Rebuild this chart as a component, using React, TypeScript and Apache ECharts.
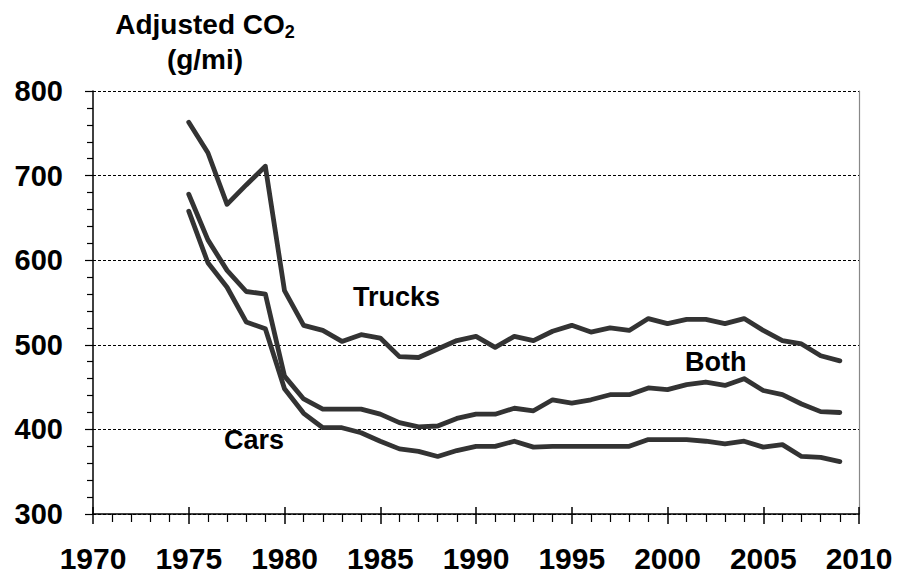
import React, { useEffect, useRef } from "react";
import * as echarts from "echarts";

const years = [
  1975, 1976, 1977, 1978, 1979, 1980, 1981, 1982, 1983, 1984, 1985, 1986, 1987, 1988, 1989, 1990, 1991,
  1992, 1993, 1994, 1995, 1996, 1997, 1998, 1999, 2000, 2001, 2002, 2003, 2004, 2005, 2006, 2007, 2008, 2009,
];
const trucks = [
  763, 727, 666, 689, 711, 564, 523, 517, 504, 512, 508, 486, 485, 495, 505, 510, 497,
  510, 505, 516, 523, 515, 520, 517, 531, 525, 530, 530, 525, 531, 517, 505, 501, 487, 481,
];
const both = [
  678, 624, 588, 563, 560, 463, 436, 424, 424, 424, 418, 408, 403, 404, 413, 418, 418,
  425, 422, 435, 431, 435, 441, 441, 449, 447, 453, 456, 452, 460, 446, 441, 430, 421, 420,
];
const cars = [
  658, 597, 568, 527, 519, 448, 419, 402, 402, 396, 386, 377, 374, 368, 375, 380, 380,
  386, 379, 380, 380, 380, 380, 380, 388, 388, 388, 386, 383, 386, 379, 382, 368, 367, 362,
];

const FONT = "'Liberation Sans', Arial, sans-serif";
const LINE_COLOR = "#333333";

function toPairs(vals: number[]) {
  return years.map((y, i) => [y, vals[i]]);
}

export default function App() {
  const ref = useRef<HTMLDivElement>(null);
  useEffect(() => {
    if (!ref.current) return;
    const chart = echarts.init(ref.current, null, { renderer: "svg" });
    const lineSeries = (name: string, vals: number[]) => ({
      name,
      type: "line",
      data: toPairs(vals),
      symbol: "none",
      lineStyle: { color: LINE_COLOR, width: 4.8, join: "round", cap: "round" },
      itemStyle: { color: LINE_COLOR },
    });
    const labelText = (text: string, x: number, y: number, size = 27) => ({
      type: "text",
      x,
      y,
      style: { text, fontFamily: FONT, fontWeight: "bold", fontSize: size, fill: "#000" },
    });
    chart.setOption({
      animation: false,
      backgroundColor: "#ffffff",
      grid: { left: 93, right: 40, top: 91, bottom: 60 },
      xAxis: [
        {
          type: "value",
          min: 1970,
          max: 2010,
          interval: 5,
          axisLine: { show: true, onZero: false, lineStyle: { color: "#000", width: 1.5 } },
          axisTick: { show: true, inside: false, length: 10, lineStyle: { color: "#000", width: 1.5 } },
          minorTick: { show: true, splitNumber: 5, length: 8, lineStyle: { color: "#000", width: 1.2 } },
          splitLine: { show: false },
          axisLabel: {
            margin: 29,
            color: "#000",
            fontFamily: FONT,
            fontWeight: "bold",
            fontSize: 30,
            lineHeight: 30,
            formatter: (v: number) => String(v),
          },
        },
        {
          type: "value",
          position: "bottom",
          min: 1970,
          max: 2010,
          interval: 5,
          axisLine: { show: false, onZero: false },
          axisTick: { show: true, inside: true, length: 7, lineStyle: { color: "#000", width: 1.5 } },
          axisLabel: { show: false },
          splitLine: { show: false },
        },
      ],
      yAxis: [
        {
          type: "value",
          min: 300,
          max: 800,
          interval: 100,
          axisLine: { show: true, lineStyle: { color: "#000", width: 1.5 } },
          axisTick: { show: true, inside: false, length: 8, lineStyle: { color: "#000", width: 1.2 } },
          minorTick: { show: true, splitNumber: 5, length: 6, lineStyle: { color: "#000", width: 1.2 } },
          splitLine: { show: true, lineStyle: { color: "#000", width: 1, type: [3, 2] } },
          axisLabel: {
            margin: 30,
            color: "#000",
            fontFamily: FONT,
            fontWeight: "bold",
            fontSize: 29,
          },
        },
        {
          type: "value",
          position: "right",
          min: 300,
          max: 800,
          interval: 100,
          axisLine: { show: true, lineStyle: { color: "#888", width: 1.2 } },
          axisTick: { show: false },
          axisLabel: { show: false },
          splitLine: { show: false },
        },
      ],
      series: [lineSeries("Trucks", trucks), lineSeries("Both", both), lineSeries("Cars", cars)],
      graphic: [
        {
          type: "text",
          x: 205,
          y: 8,
          style: {
            text: "Adjusted CO{sub|2}",
            textAlign: "center",
            fontFamily: FONT,
            fontWeight: "bold",
            fontSize: 28,
            fill: "#000",
            rich: {
              sub: { fontFamily: FONT, fontWeight: "bold", fontSize: 18, padding: [15, 0, 0, 0] },
            },
          },
        },
        {
          type: "text",
          x: 205,
          y: 45,
          style: { text: "(g/mi)", textAlign: "center", fontFamily: FONT, fontWeight: "bold", fontSize: 28, fill: "#000" },
        },
        labelText("Trucks", 353, 283),
        labelText("Both", 685, 348),
        labelText("Cars", 224, 426),
      ],
    });
    return () => chart.dispose();
  }, []);
  return <div ref={ref} style={{ position: "absolute", left: 0, top: 0, width: 899, height: 574 }} />;
}
